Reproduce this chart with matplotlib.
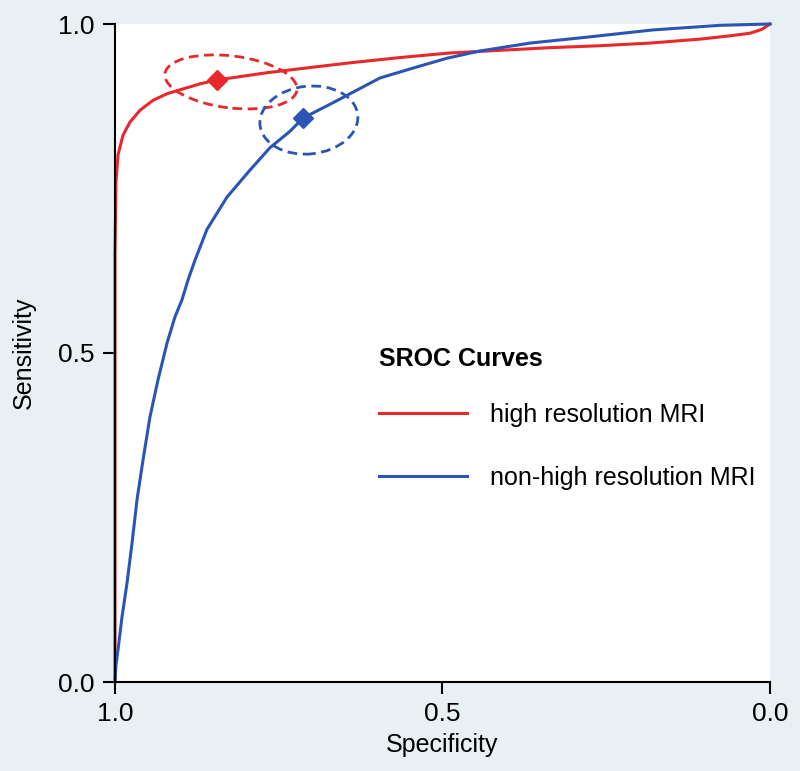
import matplotlib
matplotlib.use("Agg")
import matplotlib.pyplot as plt
from matplotlib.patches import Ellipse

plt.rcParams['font.family'] = ['Liberation Sans', 'DejaVu Sans']

# SROC curve for high resolution MRI (specificity, sensitivity)
hr_spec = [1.0, 1.0, 0.9985, 0.9954, 0.9878, 0.9771, 0.9618, 0.9420, 0.9206,
           0.9008, 0.8702, 0.8443, 0.8092, 0.7679, 0.7176, 0.6412, 0.5649,
           0.4885, 0.4122, 0.3359, 0.2595, 0.1832, 0.1069, 0.0611, 0.0305,
           0.0122, 0.0]
hr_sens = [0.0, 0.65, 0.760, 0.801, 0.831, 0.851, 0.869, 0.884, 0.894,
           0.900, 0.909, 0.915, 0.920, 0.926, 0.932, 0.941, 0.949,
           0.956, 0.960, 0.964, 0.967, 0.971, 0.977, 0.982, 0.986,
           0.992, 1.0]

# SROC curve for non-high resolution MRI
nhr_spec = [1.0, 0.9985, 0.9954, 0.9893, 0.9817, 0.9740, 0.9664, 0.9573,
            0.9466, 0.9344, 0.9206, 0.9084, 0.8977, 0.8885, 0.8779, 0.8595,
            0.8290, 0.7939, 0.7634, 0.7328, 0.7130, 0.6718, 0.6565, 0.5954,
            0.5450, 0.4931, 0.4427, 0.3664, 0.2794, 0.1786, 0.0763, 0.0]
nhr_sens = [0.0, 0.026, 0.049, 0.099, 0.150, 0.211, 0.277, 0.337,
            0.403, 0.459, 0.515, 0.555, 0.581, 0.611, 0.641, 0.688,
            0.737, 0.778, 0.812, 0.837, 0.857, 0.878, 0.886, 0.918,
            0.933, 0.948, 0.959, 0.971, 0.980, 0.991, 0.998, 1.0]

# summary points
hr_point = (0.844, 0.915)
nhr_point = (0.713, 0.857)

# confidence regions: center spec, center sens, width, height, angle
hr_region = (0.823, 0.912, 0.203, 0.079, 7)
nhr_region = (0.704, 0.854, 0.150, 0.103, -6)

red = '#e8282b'
blue = '#2b55b5'
bg = '#e8f0f3'

fig = plt.figure(figsize=(8, 7.71), dpi=100)
fig.patch.set_facecolor(bg)
ax = fig.add_axes([115 / 800, 89 / 771, 655 / 800, 658 / 771])
ax.set_facecolor('white')

ax.plot(hr_spec, hr_sens, color=red, lw=2.2, label='high resolution MRI', clip_on=False)
ax.plot(nhr_spec, nhr_sens, color=blue, lw=2.2, label='non-high resolution MRI', clip_on=False)

ax.plot(*hr_point, marker='D', color=red, markersize=10, zorder=4)
ax.plot(*nhr_point, marker='D', color=blue, markersize=10, zorder=4)

for reg, c in [(hr_region, red), (nhr_region, blue)]:
    e = Ellipse((reg[0], reg[1]), reg[2], reg[3], angle=reg[4], fill=False,
                edgecolor=c, lw=2, linestyle=(0, (3.5, 2)))
    ax.add_patch(e)

ax.set_xlim(1, 0)
ax.set_ylim(0, 1)
ax.set_xticks([1.0, 0.5, 0.0])
ax.set_yticks([0.0, 0.5, 1.0])
ax.set_xticklabels(['1.0', '0.5', '0.0'])
ax.set_yticklabels(['0.0', '0.5', '1.0'])
ax.tick_params(labelsize=19, length=8.5, width=1.5, pad=6, colors='black')
for s in ['top', 'right']:
    ax.spines[s].set_visible(False)
for s in ['left', 'bottom']:
    ax.spines[s].set_linewidth(1.5)

ax.set_xlabel('Specificity', fontsize=18, labelpad=5)
ax.set_ylabel('Sensitivity', fontsize=18, labelpad=16)

leg = ax.legend(loc='upper left', bbox_to_anchor=(379 / 800, 1 - 347 / 771),
                bbox_transform=fig.transFigure, frameon=False, fontsize=18,
                title='SROC Curves', title_fontproperties={'weight': 'bold', 'size': 18},
                handlelength=3.5, handletextpad=0.92, labelspacing=1.58,
                borderpad=0, borderaxespad=0)
leg._legend_box.align = 'left'
leg._legend_box.sep = 22.7

fig.savefig('out.png', dpi=100, facecolor=bg)
